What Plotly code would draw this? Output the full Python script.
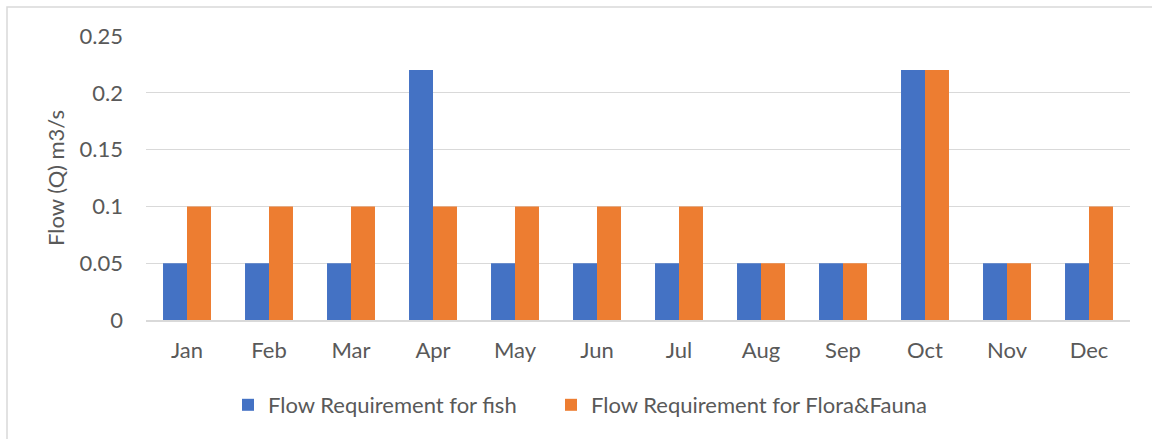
import plotly.graph_objects as go

months = ["Jan", "Feb", "Mar", "Apr", "May", "Jun", "Jul", "Aug", "Sep", "Oct", "Nov", "Dec"]
fish = [0.05, 0.05, 0.05, 0.22, 0.05, 0.05, 0.05, 0.05, 0.05, 0.22, 0.05, 0.05]
flora = [0.1, 0.1, 0.1, 0.1, 0.1, 0.1, 0.1, 0.05, 0.05, 0.22, 0.05, 0.1]
y_ticks = [0, 0.05, 0.1, 0.15, 0.2, 0.25]
y_tick_text = ["0", "0.05", "0.1", "0.15", "0.2", "0.25"]

W, H = 1152, 439
L, R, T, B = 146, 22, 36, 119
pw, ph = W - L - R, H - T - B

font = dict(family="Lato, Noto Sans, sans-serif", size=22, color="#595959")

fig = go.Figure()
fig.add_trace(go.Bar(x=months, y=fish, name="Flow Requirement for fish", showlegend=True,
                     marker=dict(color="#4472C4", line=dict(width=0)), legend="legend"))
fig.add_trace(go.Bar(x=months, y=flora, name="Flow Requirement for Flora&Fauna", showlegend=True,
                     marker=dict(color="#ED7D31", line=dict(width=0)), legend="legend2"))

leg_common = dict(orientation="h", xanchor="left", y=(320 - 405) / ph, yanchor="middle",
                  font=font, itemwidth=30, bgcolor="rgba(0,0,0,0)", visible=True)

fig.update_layout(
    width=W, height=H,
    margin=dict(l=L, r=R, t=T, b=B, autoexpand=False),
    paper_bgcolor="white", plot_bgcolor="white",
    font=font, showlegend=True,
    barmode="group", bargap=0.415, bargroupgap=0,
    legend=dict(x=(228 - L) / pw, **leg_common),
    legend2=dict(x=(551 - L) / pw, **leg_common),
    xaxis=dict(showgrid=False, showline=True, linecolor="#D9D9D9", linewidth=1.5,
               ticks="", ticklabelstandoff=10, tickfont=font),
    yaxis=dict(range=[0, 0.25], tickvals=y_ticks, ticktext=y_tick_text,
               showgrid=True, gridcolor="#D9D9D9", gridwidth=1,
               zeroline=False, showline=False, ticks="", ticklabelstandoff=22,
               tickfont=font,
               title=dict(text="Flow (Q) m3/s", font=dict(family=font["family"], size=22, color="#595959"),
                          standoff=8)),
    shapes=[dict(type="rect", xref="paper", yref="paper",
                 x0=(7 - L) / pw, x1=(1160 - L) / pw,
                 y0=(320 - 460) / ph, y1=(320 - 7) / ph,
                 line=dict(color="#D9D9D9", width=1.5), fillcolor="rgba(0,0,0,0)", layer="below")],
)

fig.write_html("out.html", config={"displayModeBar": False},
               post_script="document.body.style.margin='0px';")
